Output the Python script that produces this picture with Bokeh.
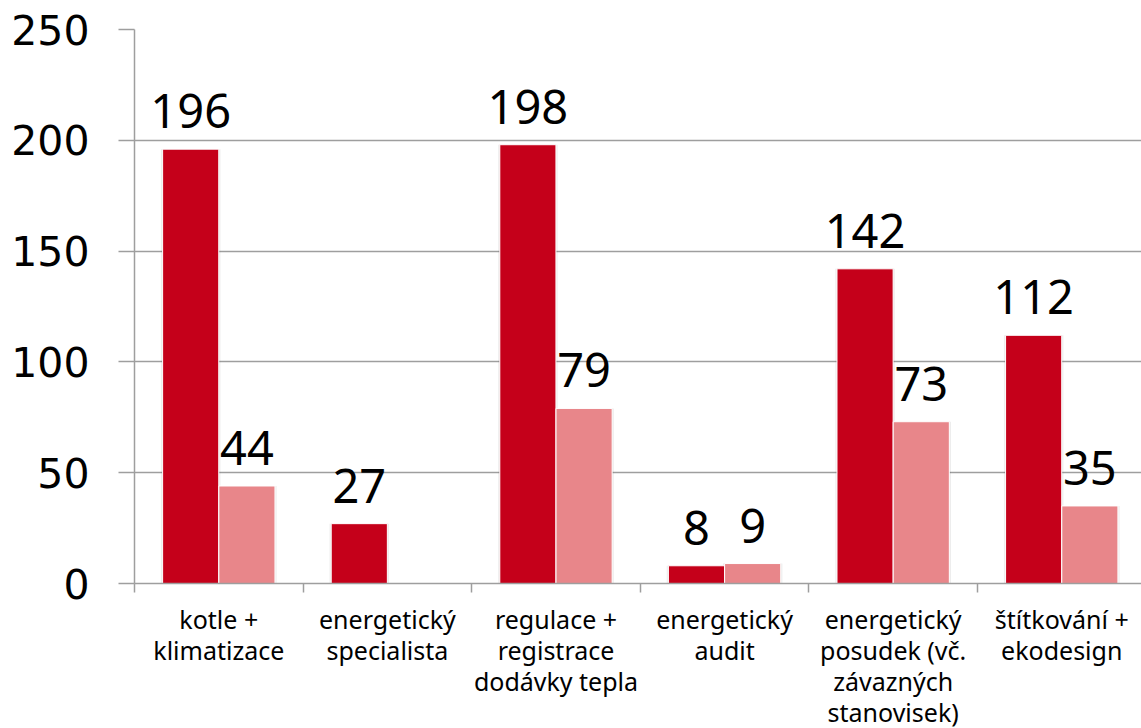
from bokeh.plotting import figure
from bokeh.models import (Range1d, FixedTicker, ColumnDataSource, LabelSet)
from bokeh.core.properties import value
from bokeh.embed import file_html
from bokeh.resources import INLINE

categories = [
    "kotle +\nklimatizace",
    "energetický\nspecialista",
    "regulace +\nregistrace\ndodávky tepla",
    "energetický\naudit",
    "energetický\nposudek (vč.\nzávazných\nstanovisek)",
    "štítkování +\nekodesign",
]
series_dark = [196, 27, 198, 8, 142, 112]
series_light = [44, None, 79, 9, 73, 35]
y_ticks = [0, 50, 100, 150, 200, 250]

DARK = "#C5001A"
LIGHT = "#E8868A"
GRID = "#9E9E9E"
FONT = "Noto Sans"

n = len(categories)
bar_w = 0.333
off = 0.1667

p = figure(frame_width=1007, frame_height=554, output_backend="svg", toolbar_location=None,
           x_range=Range1d(0, 5.973), y_range=Range1d(0, 250),
           min_border_left=134, min_border_right=0, min_border_top=29,
           min_border_bottom=145)
p.outline_line_color = None
p.background_fill_color = "white"
p.border_fill_color = "white"

dark_x = [i + 0.5 - off for i in range(n)]
light_x, light_v = [], []
for i, v in enumerate(series_light):
    if v is not None:
        light_x.append(i + 0.5 + off)
        light_v.append(v)

src_d = ColumnDataSource(dict(x=dark_x, top=series_dark, t=[str(v) for v in series_dark]))
src_l = ColumnDataSource(dict(x=light_x, top=light_v, t=[str(v) for v in light_v]))

# soft shadows
for src in (src_d, src_l):
    p.vbar(x="x", top="top", width=bar_w + 0.02, source=src, fill_color="black",
           fill_alpha=0.07, line_color=None)

p.vbar(x="x", top="top", width=bar_w, source=src_d, fill_color=DARK, line_color="white", line_width=1)
p.vbar(x="x", top="top", width=bar_w, source=src_l, fill_color=LIGHT, line_color="white", line_width=1)

for src in (src_d, src_l):
    p.add_layout(LabelSet(x="x", y="top", text="t", source=src, y_offset=21,
                          text_align="center", text_baseline="alphabetic",
                          text_font=value(FONT), text_font_size="47px", text_color="black"))

# y axis
p.yaxis.ticker = FixedTicker(ticks=y_ticks)
p.yaxis.axis_line_color = GRID
p.yaxis.axis_line_width = 1.5
p.yaxis.major_tick_line_color = GRID
p.yaxis.major_tick_line_width = 1.5
p.yaxis.major_tick_out = 16
p.yaxis.major_tick_in = 0
p.yaxis.minor_tick_line_color = None
p.yaxis.major_label_standoff = 29
p.yaxis.major_label_text_font = "DejaVu Sans"
p.yaxis.major_label_text_font_size = "41px"
p.yaxis.major_label_text_color = "black"

p.ygrid.ticker = FixedTicker(ticks=y_ticks)
p.ygrid.grid_line_color = GRID
p.ygrid.grid_line_width = 1.5
p.xgrid.grid_line_color = None

# x axis: labels at category centres, tick marks at boundaries
centers = [i + 0.5 for i in range(n)]
p.xaxis.ticker = FixedTicker(ticks=centers, minor_ticks=list(range(n + 1)))
p.xaxis.major_label_overrides = {c: lab for c, lab in zip(centers, categories)}
p.xaxis.axis_line_color = GRID
p.xaxis.axis_line_width = 1.5
p.xaxis.major_tick_line_color = None
p.xaxis.major_tick_out = 0
p.xaxis.major_tick_in = 0
p.xaxis.minor_tick_line_color = GRID
p.xaxis.minor_tick_line_width = 1.5
p.xaxis.minor_tick_out = 9
p.xaxis.minor_tick_in = 0
p.xaxis.major_label_standoff = 9
p.xaxis.major_label_text_font = FONT
p.xaxis.major_label_text_font_size = "25px"
p.xaxis.major_label_text_line_height = 0.92
p.xaxis.major_label_text_color = "black"

open("out.html", "w").write(file_html(p, INLINE))
